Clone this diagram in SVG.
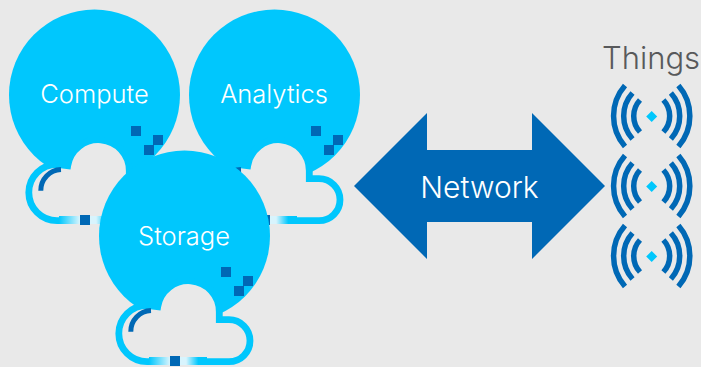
<svg xmlns="http://www.w3.org/2000/svg" width="701" height="367" viewBox="0 0 701 367">
<style>
.bubble{fill:#00c7fd}
.cloud{fill:#e9e9e9;stroke:#00c7fd;stroke-width:6.8;stroke-linejoin:miter}
.arc{fill:none;stroke:#0068b5;stroke-width:5}
.wave{fill:none;stroke:#0068b5;stroke-width:5.500}
.sq{fill:#0068b5}
.lbl{font-family:"Inter","Liberation Sans",sans-serif;font-weight:300;fill:#fff;text-anchor:middle}
</style>
<defs>
<linearGradient id="fade" gradientUnits="userSpaceOnUse" x1="149" y1="0" x2="207" y2="0">
<stop offset="0" stop-color="#00c7fd"/><stop offset="0.36" stop-color="#d8f4fd"/><stop offset="0.64" stop-color="#d8f4fd"/><stop offset="0.85" stop-color="#00c7fd"/><stop offset="1" stop-color="#00c7fd"/>
</linearGradient>
<g id="bubble">
<circle class="bubble" cx="184.500" cy="236" r="85.500"/>
<path class="cloud" d="M147 361.700A28.200 28.200 0 0 1 147 305.300L157.700 306.700A31 31 0 0 1 219.300 311.700V319.700H229A21 21 0 0 1 229 361.700Z"/>
<path class="arc" d="M151 310.500A21 21 0 0 0 130.800 331.700"/>
<rect x="149" y="357" width="58" height="8" fill="url(#fade)"/>
<rect class="sq" x="170" y="356" width="10" height="10"/>
<rect class="sq" x="221" y="267" width="10" height="10"/>
<rect class="sq" x="243" y="276" width="10" height="10"/>
<rect class="sq" x="234" y="286" width="10" height="10"/>
</g>
<g id="wifi">
<path class="wave" d="M625 85.500A46.400 46.400 0 0 0 625 146.500M632.500 93A34.400 34.400 0 0 0 632.500 139M640 100A23.500 23.500 0 0 0 640 132M678.400 85.500A46.400 46.400 0 0 1 678.400 146.500M670.900 93A34.400 34.400 0 0 1 670.900 139M663.400 100A23.500 23.500 0 0 1 663.400 132"/>
<path fill="#00c7fd" d="M651.700 111L657.200 116.500L651.700 122L646.200 116.500Z"/>
</g>
</defs>
<rect width="701" height="367" fill="#e9e9e9"/>
<g id="compute"><use href="#bubble" x="-90" y="-141"/><text class="lbl" x="94.500" y="103" font-size="25.500">Compute</text></g>
<g id="analytics"><use href="#bubble" x="90" y="-141"/><text class="lbl" x="274" y="103" font-size="25.500">Analytics</text></g>
<g id="storage"><use href="#bubble"/><text class="lbl" x="184" y="245" font-size="25.500">Storage</text></g>
<g id="connectors">
<path id="network-arrow" fill="#0068b5" d="M354 186L427 113V150H532V113L605 186L532 259V222H427V259Z"/>
</g>
<text class="lbl" x="479.500" y="198" font-size="30">Network</text>
<g id="things">
<text x="651" y="69" font-family="Inter,'Liberation Sans',sans-serif" font-weight="300" font-size="31" fill="#58595b" text-anchor="middle">Things</text>
<use href="#wifi"/><use href="#wifi" y="70"/><use href="#wifi" y="140"/>
</g>
</svg>
